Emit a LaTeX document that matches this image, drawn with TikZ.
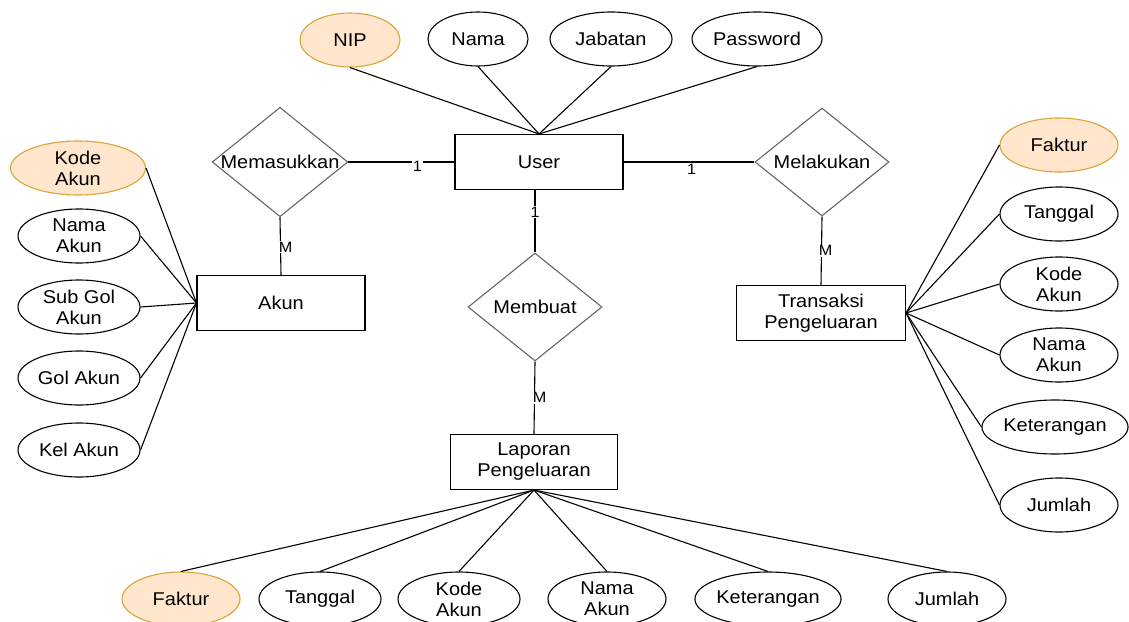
\documentclass[tikz,border=0pt]{standalone}
\usepackage{fontspec}
\setmainfont{Liberation Sans}[FakeStretch=1.08]
\usetikzlibrary{shapes.geometric}
\definecolor{keyfill}{HTML}{FFE6CC}
\definecolor{keydraw}{HTML}{D9A43A}
\definecolor{reldraw}{HTML}{666666}

\begin{document}
\begin{tikzpicture}[x=1pt, y=-1pt, line width=1.1pt,
  every node/.style={font=\fontsize{18.5}{21}\selectfont},
  entity/.style={draw, rectangle, minimum width=168pt, minimum height=55pt, align=center, inner sep=0pt},
  attr/.style={draw, ellipse, minimum width=120pt, minimum height=54pt, align=center, inner sep=0pt},
  keyattr/.style={attr, fill=keyfill, draw=keydraw},
  rel/.style={draw=reldraw, diamond, aspect=1.24, minimum width=134pt, minimum height=108pt, inner sep=0pt},
  card/.style={fill=white, inner sep=1pt, font=\fontsize{15}{17}\selectfont}]
\useasboundingbox (0,0) rectangle (1129,621);
\clip (0,0) rectangle (1129,621);

% user
\node[entity] at (539,162) (user) {User};
\node[keyattr, minimum width=100pt] at (350,40) (nip) {NIP};
\node[attr, minimum width=100pt] at (478,39) (nama) {Nama};
\node[attr, minimum width=122pt] at (611,39) (jabatan) {Jabatan};
\node[attr, minimum width=130pt] at (757,39) (password) {Password};
\foreach \a in {nip,nama,jabatan,password}
  \draw (\a.south) -- (user.north);

% akun
\node[rel] at (280,162) (memasukkan) {Memasukkan};
\node[entity] at (281,303) (akun) {Akun};
\node[keyattr, minimum width=135pt] at (78,168) (kodeakun) {Kode\\Akun};
\node[attr, minimum width=122pt] at (79,236) (namaakun) {Nama\\Akun};
\node[attr, minimum width=122pt] at (79,307) (subgol) {Sub Gol\\Akun};
\node[attr, minimum width=122pt] at (79,378) (golakun) {Gol Akun};
\node[attr, minimum width=122pt] at (79,450) (kelakun) {Kel Akun};
\foreach \a in {kodeakun,namaakun,subgol,golakun,kelakun}
  \draw (\a.east) -- (akun.west);
\draw (memasukkan.east) -- node[card, pos=.65, yshift=-4pt] {1} (user.west);
\draw (memasukkan.south) -- node[card, pos=.52, xshift=5pt] {M} (akun.north);

% transaksi
\node[rel] at (822,162) (melakukan) {Melakukan};
\node[entity, minimum width=169pt] at (821,313) (transaksi) {Transaksi\\Pengeluaran};
\node[keyattr, minimum width=118pt] at (1059,145) (tfaktur) {Faktur};
\node[attr, minimum width=118pt] at (1059,214) (ttanggal) {Tanggal};
\node[attr, minimum width=118pt] at (1059,284) (tkode) {Kode\\Akun};
\node[attr, minimum width=118pt] at (1059,355) (tnama) {Nama\\Akun};
\node[attr, minimum width=144pt] at (1055,427) (tket) {Keterangan};
\node[attr, minimum width=118pt] at (1059,505) (tjumlah) {Jumlah};
\foreach \a in {tfaktur,ttanggal,tkode,tnama,tket,tjumlah}
  \draw (transaksi.east) -- (\a.west);
\draw (user.east) -- node[card, pos=.52, yshift=-7pt] {1} (melakukan.west);
\draw (melakukan.south) -- node[card, pos=.5, xshift=4pt] {M} (transaksi.north);

% laporan
\node[rel] at (535,307) (membuat) {Membuat};
\node[entity, minimum width=167pt] at (534,462) (laporan) {Laporan\\Pengeluaran};
\node[keyattr, minimum width=118pt] at (181,599) (lfaktur) {Faktur};
\node[attr, minimum width=122pt] at (320,599) (ltanggal) {Tanggal};
\node[attr, minimum width=122pt] at (459,599) (lkode) {Kode\\Akun};
\node[attr, minimum width=118pt] at (607,599) (lnama) {Nama\\Akun};
\node[attr, minimum width=142pt] at (768,599) (lket) {Keterangan};
\node[attr, minimum width=118pt] at (947,599) (ljumlah) {Jumlah};
\foreach \a in {lfaktur,ltanggal,lkode,lnama,lket,ljumlah}
  \draw (laporan.south) -- (\a.north);
\draw (user.south -| membuat.north) -- node[card, pos=.35] {1} (membuat.north);
\draw (membuat.south) -- node[card, pos=.5, xshift=5pt] {M} (laporan.north);

\end{tikzpicture}
\end{document}
